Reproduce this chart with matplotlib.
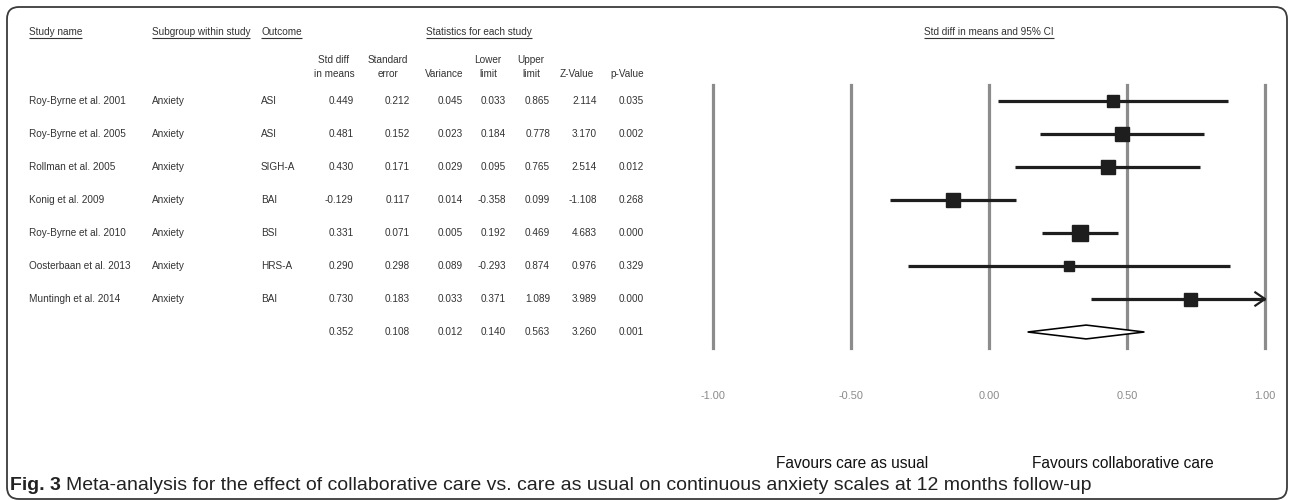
import matplotlib
matplotlib.use("Agg")
import matplotlib.pyplot as plt
from matplotlib import font_manager
from matplotlib.patches import FancyBboxPatch, Polygon
from matplotlib.transforms import blended_transform_factory

# ---------------- data ----------------
studies = ["Roy-Byrne et al. 2001", "Roy-Byrne et al. 2005", "Rollman et al. 2005",
           "Konig et al. 2009", "Roy-Byrne et al. 2010", "Oosterbaan et al. 2013",
           "Muntingh et al. 2014"]
subgroups = ["Anxiety", "Anxiety", "Anxiety", "Anxiety", "Anxiety", "Anxiety", "Anxiety"]
outcomes = ["ASI", "ASI", "SIGH-A", "BAI", "BSI", "HRS-A", "BAI"]
std_diff = [0.449, 0.481, 0.430, -0.129, 0.331, 0.290, 0.730]
std_err = [0.212, 0.152, 0.171, 0.117, 0.071, 0.298, 0.183]
variance = [0.045, 0.023, 0.029, 0.014, 0.005, 0.089, 0.033]
lower = [0.033, 0.184, 0.095, -0.358, 0.192, -0.293, 0.371]
upper = [0.865, 0.778, 0.765, 0.099, 0.469, 0.874, 1.089]
z_value = [2.114, 3.170, 2.514, -1.108, 4.683, 0.976, 3.989]
p_value = [0.035, 0.002, 0.012, 0.268, 0.000, 0.329, 0.000]
summary = {"std_diff": 0.352, "std_err": 0.108, "variance": 0.012,
           "lower": 0.140, "upper": 0.563, "z": 3.260, "p": 0.001}
ticks = [-1.0, -0.5, 0.0, 0.5, 1.0]
tick_labels = ["-1.00", "-0.50", "0.00", "0.50", "1.00"]

# ---------------- style ----------------
W, H, DPI = 1292, 500, 100
PT = 72.0 / DPI
square_px = [12.5, 14, 13.5, 14, 15.5, 10.5, 13]
txt_col = "#333333"
grid_col = "#8c8c8c"
mark_col = "#1e1e1e"
plt.rcParams["font.family"] = ["Liberation Sans", "DejaVu Sans"]

installed = {f.name for f in font_manager.fontManager.ttflist}
cap_family = ["Liberation Sans Narrow"] if "Liberation Sans Narrow" in installed else ["Liberation Sans"]

fig = plt.figure(figsize=(W / DPI, H / DPI), dpi=DPI)
bg = fig.add_axes([0, 0, 1, 1])
bg.set_xlim(0, W)
bg.set_ylim(H, 0)
bg.axis("off")

# rounded frame
bg.add_patch(FancyBboxPatch((7, 7), 1280, 492, boxstyle="round,pad=0,rounding_size=12",
                            fill=False, ec="#3a3a3a", lw=1.3, clip_on=False))

# forest axes
top_px, bot_px, x0_px, x1_px = 85, 348, 713, 1265
ax = fig.add_axes([x0_px / W, (H - bot_px) / H, (x1_px - x0_px) / W, (bot_px - top_px) / H])
ax.set_facecolor("none")
row0, step = 101, 33
ax.set_xlim(-1, 1)
ax.set_ylim((bot_px - row0) / step, (top_px - row0) / step)
for s in ax.spines.values():
    s.set_visible(False)
ax.set_yticks([])
ax.set_xticks(ticks)
ax.set_xticklabels(tick_labels)
ax.tick_params(axis="x", length=0, pad=43 * PT, labelsize=11 * PT, labelcolor="#8a8a8a")
for t in ticks:
    ax.axvline(t, color=grid_col, lw=3.2 * PT, zorder=1, clip_on=False)

for i in range(len(studies)):
    lo, hi = lower[i], upper[i]
    if hi > 1.0:
        ax.plot([lo, 1.0], [i, i], color=mark_col, lw=3.2 * PT, solid_capstyle="butt",
                zorder=2, clip_on=False)
        ax.plot([1.0 - 0.035, 1.0, 1.0 - 0.035], [i - 0.2, i, i + 0.2], color=mark_col,
                lw=2.2 * PT, zorder=2, clip_on=False)
    else:
        ax.plot([lo, hi], [i, i], color=mark_col, lw=3.2 * PT, solid_capstyle="butt", zorder=2)
    ax.plot([std_diff[i]], [i], marker="s", ms=square_px[i] * PT, color=mark_col,
            mec=mark_col, zorder=3)

sy = len(studies)
dh = 0.21
ax.add_patch(Polygon([(summary["lower"], sy), (summary["std_diff"], sy - dh),
                      (summary["upper"], sy), (summary["std_diff"], sy + dh)],
                     closed=True, fc="white", ec="black", lw=1.6 * PT, zorder=3))

# text table (x in figure pixels, y in forest row units)
tr = blended_transform_factory(bg.transData, ax.transData)
fs = 10 * PT


def cell(x, y, s, ha="left", **kw):
    return bg.text(x, y, s, transform=tr, ha=ha, va="center", fontsize=fs, color=txt_col, **kw)


fig.canvas.draw()
renderer = fig.canvas.get_renderer()
inv = bg.transData.inverted()


def underline(t):
    bb = t.get_window_extent(renderer)
    (xa, ya), (xb, yb) = inv.transform([(bb.x0, bb.y0), (bb.x1, bb.y0)])
    bg.plot([xa, xb], [ya + 1.5, ya + 1.5], color=txt_col, lw=0.8, solid_capstyle="butt")


hdr_y = (32 - row0) / step
h1 = (60 - row0) / step
h2 = (74 - row0) / step
for x, s, ha in [(28.6, "Study name", "left"), (151.5, "Subgroup within study", "left"),
                 (261, "Outcome", "left"), (479, "Statistics for each study", "center")]:
    t = cell(x, hdr_y, s, ha=ha)
    underline(t)
t = bg.text((x0_px + x1_px) / 2, hdr_y, "Std diff in means and 95% CI", transform=tr,
            ha="center", va="center", fontsize=fs, color=txt_col)
underline(t)

col_right = [353.5, 410, 463, 506, 550, 597, 644]
col_center = [334, 388, 444, 488, 531, 577, 627]
col_hdr = [("Std diff", "in means"), ("Standard", "error"), ("", "Variance"),
           ("Lower", "limit"), ("Upper", "limit"), ("", "Z-Value"), ("", "p-Value")]
for xc, (a, b) in zip(col_center, col_hdr):
    if a:
        cell(xc, h1, a, ha="center")
    cell(xc, h2, b, ha="center")

for i in range(len(studies)):
    cell(28.6, i, studies[i])
    cell(151.5, i, subgroups[i])
    cell(261, i, outcomes[i])
    vals = [std_diff[i], std_err[i], variance[i], lower[i], upper[i], z_value[i], p_value[i]]
    for xr, v in zip(col_right, vals):
        cell(xr, i, f"{v:.3f}", ha="right")
svals = [summary["std_diff"], summary["std_err"], summary["variance"], summary["lower"],
         summary["upper"], summary["z"], summary["p"]]
for xr, v in zip(col_right, svals):
    cell(xr, sy, f"{v:.3f}", ha="right")

# favours labels
bg.text(852, 463, "Favours care as usual", ha="center", va="center", fontsize=15.5 * PT,
        color="#111111")
bg.text(1123, 463, "Favours collaborative care", ha="center", va="center", fontsize=15.5 * PT,
        color="#111111")

# caption, fitted so it spans x = 10 .. 1093 like the reference
cap_text = ("Meta-analysis for the effect of collaborative care vs. care as usual on "
            "continuous anxiety scales at 12 months follow-up")
cap_fs = 19.0 * PT
t1 = bg.text(10, 486, "Fig. 3", ha="left", va="center", fontsize=cap_fs, fontweight="bold",
             color="#222222", family=cap_family)
t2 = bg.text(0, 486, cap_text, ha="left", va="center", fontsize=cap_fs, color="#222222",
             family=cap_family)
fig.canvas.draw()
for _ in range(2):
    b1 = t1.get_window_extent(renderer)
    x1 = inv.transform((b1.x1, b1.y0))[0]
    t2.set_x(x1 + 5)
    fig.canvas.draw()
    b2 = t2.get_window_extent(renderer)
    xe = inv.transform((b2.x1, b2.y0))[0]
    scale = (1093 - 10) / (xe - 10)
    cap_fs = min(cap_fs * scale, 19.5 * PT)
    t1.set_fontsize(cap_fs)
    t2.set_fontsize(cap_fs)
    fig.canvas.draw()
b1 = t1.get_window_extent(renderer)
t2.set_x(inv.transform((b1.x1, b1.y0))[0] + 5)

fig.savefig("out.png", dpi=DPI)
